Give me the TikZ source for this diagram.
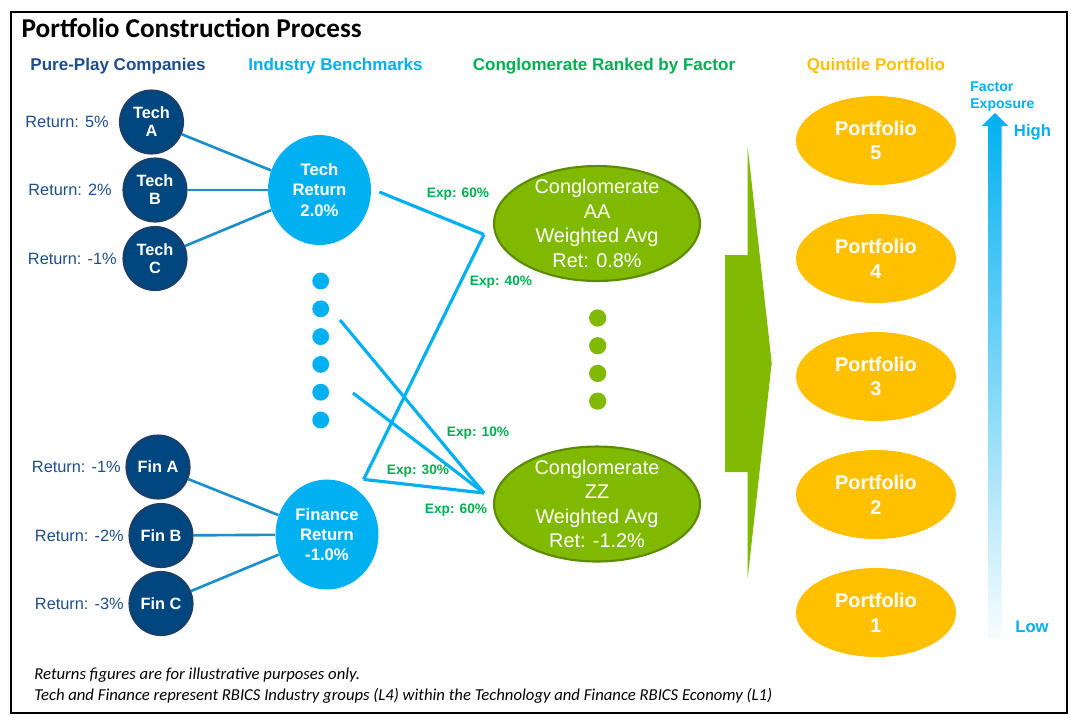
\documentclass[tikz,border=0pt]{standalone}
\usepackage{fontspec}
\setmainfont{Liberation Sans}
\newfontfamily\calibri{Carlito}
\usetikzlibrary{shapes.geometric}

\begin{document}
\begin{tikzpicture}[x=0.02cm, y=-0.02cm]
  \definecolor{navy}{HTML}{00467F}
  \definecolor{navyline}{HTML}{1B3F6B}
  \definecolor{navytext}{HTML}{1F4E8C}
  \definecolor{skyblue}{HTML}{00B0F0}
  \definecolor{linkblue}{HTML}{1A8FC9}
  \definecolor{expgreen}{HTML}{00B050}
  \definecolor{conggreen}{HTML}{7FBA00}
  \definecolor{congline}{HTML}{5C8A00}
  \definecolor{gold}{HTML}{FFC000}
  \tikzstyle{company}=[circle, draw=navyline, line width=1.2pt, fill=navy, text=white, minimum size=1.26cm, inner sep=0pt, align=center, font=\fontsize{9.3}{10.2}\selectfont\bfseries]
  \tikzstyle{industry}=[ellipse, fill=skyblue, text=white, minimum width=2.06cm, minimum height=2.2cm, inner sep=0pt, align=center, font=\fontsize{9.5}{11.4}\selectfont\bfseries]
  \tikzstyle{conglo}=[ellipse, draw=congline, line width=1.2pt, fill=conggreen, text=white, minimum width=4.12cm, minimum height=2.3cm, inner xsep=0pt, inner ysep=-0.6cm, align=center, font=\fontsize{11.3}{13.9}\selectfont]
  \tikzstyle{quintile}=[ellipse, fill=gold, text=white, minimum width=3.2cm, minimum height=1.78cm, inner sep=0pt, align=center, font=\fontsize{11.3}{14}\selectfont\bfseries]
  \tikzstyle{ret}=[anchor=east, inner sep=0pt, text=navytext, font=\fontsize{9.3}{11}\selectfont]
  \tikzstyle{head}=[inner sep=0pt, font=\fontsize{9.7}{11}\selectfont\bfseries]
  \tikzstyle{exp}=[inner sep=0pt, text=expgreen, font=\fontsize{7.8}{9}\selectfont\bfseries]
  \tikzstyle{link}=[draw=linkblue, line width=1.5pt]
  \tikzstyle{expline}=[draw=skyblue, line width=1.8pt]

  \path[fill=white, use as bounding box] (0,0) rectangle (1081,725);
  \draw[line width=1.1pt] (11,12) rectangle (1067,713);

  \node[anchor=west, inner sep=0pt, font=\calibri\fontsize{15.5}{18}\selectfont\bfseries] (title) at (21.3,28) {Portfolio Construction Process};
  \node[head, text=navytext] (h1) at (118,66) {Pure-Play Companies};
  \node[head, text=skyblue] (h2) at (335.5,66) {Industry Benchmarks};
  \node[head, text=expgreen] (h3) at (604,66) {Conglomerate Ranked by Factor};
  \node[head, text=gold] (h4) at (876,66) {Quintile Portfolio};

  % pure-play companies
  \node[company] (techa) at (151.5,122) {Tech\\A};
  \node[company] (techb) at (155,190) {Tech\\B};
  \node[company] (techc) at (155,258.5) {Tech\\C};
  \node[company] (fina) at (158,467) {Fin A};
  \node[company] (finb) at (161,535.5) {Fin B};
  \node[company] (finc) at (161,603.5) {Fin C};
  \node[ret] (reta) at (109,122) {Return: 5\%};
  \node[ret] (retb) at (112,190) {Return: 2\%};
  \node[ret] (retc) at (117,258.5) {Return: -1\%};
  \node[ret] (retd) at (121,467) {Return: -1\%};
  \node[ret] (rete) at (124,535.5) {Return: -2\%};
  \node[ret] (retf) at (124,603.5) {Return: -3\%};

  % benchmarks and conglomerates
  \node[industry] (techret) at (319.5,190) {Tech\\Return\\2.0\%};
  \node[industry] (finret) at (327,534.5) {Finance\\Return\\-1.0\%};
  \node[conglo] (conga) at (597,223.5) {Conglomerate\\AA\\Weighted Avg\\Ret: 0.8\%};
  \node[conglo] (congz) at (597,504) {Conglomerate\\ZZ\\Weighted Avg\\Ret: -1.2\%};
  \foreach \i in {0,...,5} \fill[skyblue] (320.7,281+27.8*\i) circle (4.8pt);
  \foreach \i in {0,...,3} \fill[conggreen] (597.7,318+27.7*\i) circle (4.9pt);

  \coordinate (aahub) at ([shift={(-9,11)}]conga.west);
  \coordinate (zzhub) at ([shift={(-9,-11)}]congz.west);
  \coordinate (finhub) at ([shift={(0,-16)}]finret.north east);
  \coordinate (dota) at (340,320);
  \coordinate (dotb) at (353,393);

  \foreach \c in {techa,techb,techc} \draw[link] (\c) -- (techret);
  \foreach \c in {fina,finb,finc} \draw[link] (\c) -- (finret);
  \draw[expline] ([shift={(8,2)}]techret.east) -- (aahub);
  \draw[expline] (finhub) -- (aahub);
  \draw[expline] (finhub) -- (zzhub);
  \draw[expline] (dota) -- (zzhub);
  \draw[expline] (dotb) -- (zzhub);
  \node[exp] (e1) at (458,194) {Exp: 60\%};
  \node[exp] (e2) at (501,282) {Exp: 40\%};
  \node[exp] (e3) at (478,433) {Exp: 10\%};
  \node[exp] (e4) at (418,471) {Exp: 30\%};
  \node[exp] (e5) at (456,510) {Exp: 60\%};

  % ranking arrow and quintiles
  \fill[conggreen] (747.7,147) -- (771.7,363) -- (747.7,578) -- (747.7,472) -- (725,472) -- (725,255) -- (747.7,255) -- cycle;
  \foreach \n/\y in {5/140.5, 4/258.5, 3/376.5, 2/494.5, 1/612.5}
    \node[quintile] (pf\n) at (876,\y) {Portfolio\\\n};

  \shade[top color=skyblue, bottom color=skyblue!3] (988,638) -- (988,126) -- (981.7,126) -- (995,113) -- (1008.3,126) -- (1001.7,126) -- (1001.7,638) -- cycle;
  \node[inner sep=0pt, anchor=west, align=left, text=skyblue, font=\fontsize{8}{9.6}\selectfont\bfseries] (fe) at (970,96.5) {Factor\\Exposure};
  \node[inner sep=0pt, text=skyblue, font=\fontsize{9.5}{11}\selectfont\bfseries] (high) at (1032.5,132.7) {High};
  \node[inner sep=0pt, text=skyblue, font=\fontsize{9.5}{11}\selectfont\bfseries] (low) at (1032,627) {Low};

  \node[anchor=west, align=left, inner sep=0pt, font=\calibri\itshape\fontsize{9.5}{11.9}\selectfont] (note) at (34,685.5) {Returns figures are for illustrative purposes only.\\Tech and Finance represent RBICS Industry groups (L4) within the Technology and Finance RBICS Economy (L1)};
\end{tikzpicture}
\end{document}
